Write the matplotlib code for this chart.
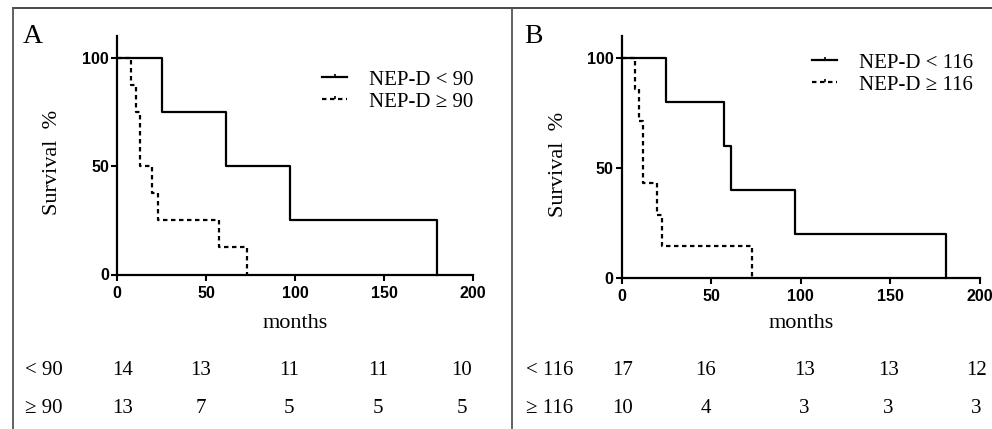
import matplotlib.pyplot as plt
from matplotlib.lines import Line2D
from matplotlib.path import Path
from matplotlib.transforms import blended_transform_factory

# panel A: NEP-D cut-off 90
a_low_t = [0, 25, 61, 97, 180]
a_low_s = [100, 75, 50, 25, 0]
a_high_t = [0, 7.5, 10.3, 13, 19.3, 23, 57, 73]
a_high_s = [100, 87.5, 75, 50, 37.5, 25, 12.5, 0]
a_risk_low = [14, 13, 11, 11, 10]
a_risk_high = [13, 7, 5, 5, 5]

# panel B: NEP-D cut-off 116
b_low_t = [0, 25, 57, 61, 97, 181]
b_low_s = [100, 80, 60, 40, 20, 0]
b_high_t = [0, 7.4, 9.7, 12, 19.5, 22.3, 72.8]
b_high_s = [100, 85.7, 71.4, 42.9, 28.6, 14.3, 0]
b_risk_low = [17, 16, 13, 13, 12]
b_risk_high = [10, 4, 3, 3, 3]

W, H = 992, 429
serif = ['Liberation Serif', 'DejaVu Serif']
sans = ['Liberation Sans', 'DejaVu Sans']
tick_mark = Path([(0, 0), (0, 1)])

fig = plt.figure(figsize=(W / 100, H / 100), dpi=100)

# outer frame and divider
fc = '#3a3a3a'
fig.add_artist(Line2D([13 / W, 1], [1 - 8 / H] * 2, color=fc, lw=1.3))
fig.add_artist(Line2D([13 / W] * 2, [0, 1 - 8 / H], color='#555555', lw=1.3))
fig.add_artist(Line2D([512 / W] * 2, [0, 1 - 8 / H], color='#555555', lw=1.3))


def panel(rect, letter, low, high, cut, risk_low, risk_high, risk_x,
          leg_xy, lab_x, row_left, months_y):
    ax = fig.add_axes(rect)
    ax.step(low[0], low[1], where='post', color='black', lw=1.6, clip_on=False)
    ax.step(high[0], high[1], where='post', color='black', lw=1.6,
            ls=(0, (2, 1.6)), clip_on=False)
    ax.set_xlim(0, 200)
    ax.set_ylim(0, 110)
    ax.set_xticks([0, 50, 100, 150, 200])
    ax.set_yticks([0, 50, 100])
    for s in ['top', 'right']:
        ax.spines[s].set_visible(False)
    for s in ['left', 'bottom']:
        ax.spines[s].set_linewidth(1.6)
    ax.spines['bottom'].set_bounds(0, 200)
    ax.tick_params(direction='out', length=4, width=1.5, pad=2, labelsize=11.5)
    ax.tick_params(axis='x', pad=4)
    for lab in ax.get_xticklabels() + ax.get_yticklabels():
        lab.set_fontfamily(sans)
        lab.set_fontweight('bold')
    ax.set_xlabel('months', fontfamily=serif, fontsize=16)
    ax.xaxis.set_label_coords(0.5, months_y)
    ax.set_ylabel('Survival  %', fontfamily=serif, fontsize=16)
    ax.yaxis.set_label_coords(lab_x, 0.47)

    h1 = Line2D([], [], color='black', lw=1.6, marker=tick_mark, markersize=5,
                markeredgewidth=1.2)
    h2 = Line2D([], [], color='black', lw=1.6, ls=(0, (2, 1.6)),
                marker=tick_mark, markersize=5, markeredgewidth=1.2)
    ax.legend([h1, h2], ['NEP-D < %d' % cut, 'NEP-D \u2265 %d' % cut],
              loc='upper left', bbox_to_anchor=leg_xy,
              bbox_transform=fig.transFigure, frameon=False, borderpad=0,
              borderaxespad=0, handlelength=1.2, handletextpad=1.05,
              labelspacing=0.12, prop={'family': serif, 'size': 15})

    fig.text(row_left - 2 / W, 1 - 43 / H, letter, fontfamily=serif,
             fontsize=20, va='baseline')

    # numbers at risk
    tr = blended_transform_factory(ax.transData, fig.transFigure)
    y1, y2 = 1 - 375 / H, 1 - 413 / H
    fig.text(row_left, y1, '< %d' % cut, fontfamily=serif, fontsize=15,
             va='baseline')
    fig.text(row_left, y2, '\u2265 %d' % cut, fontfamily=serif, fontsize=15,
             va='baseline')
    for x, n1, n2 in zip(risk_x, risk_low, risk_high):
        ax.text(x, y1, str(n1), transform=tr, ha='center', va='baseline',
                fontfamily=serif, fontsize=15)
        ax.text(x, y2, str(n2), transform=tr, ha='center', va='baseline',
                fontfamily=serif, fontsize=15)
    return ax


panel([117.3 / W, 1 - 274.5 / H, (473 - 117.3) / W, 238.5 / H], 'A',
      (a_low_t, a_low_s), (a_high_t, a_high_s), 90, a_risk_low, a_risk_high,
      [3, 47, 96.5, 146.5, 193.5], (322 / W, 1 - 70 / H), -0.155, 25 / W,
      -0.165)
panel([621.7 / W, 1 - 277.5 / H, (980 - 621.7) / W, 241.5 / H], 'B',
      (b_low_t, b_low_s), (b_high_t, b_high_s), 116, b_risk_low, b_risk_high,
      [0.5, 47, 102, 149, 198], (812 / W, 1 - 53 / H), -0.15, 526 / W,
      -0.15)

fig.savefig('out.png', dpi=100)
